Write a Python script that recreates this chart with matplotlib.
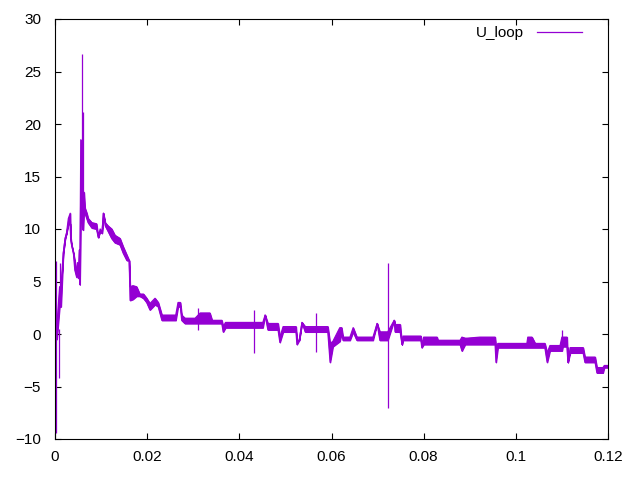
import numpy as np
import matplotlib
matplotlib.use('Agg')
import matplotlib.pyplot as plt
from matplotlib.lines import Line2D

plt.rcParams['font.family'] = ['Liberation Sans', 'DejaVu Sans']

# U_loop envelope: time, lower and upper value of the band
t = [0.0002, 0.0004, 0.0010, 0.0013, 0.0018, 0.0022, 0.0025, 0.0029, 0.0033,
     0.0034, 0.0036, 0.0040, 0.0043, 0.0047, 0.0049, 0.0051, 0.0053, 0.0054,
     0.0056, 0.0058, 0.0060, 0.0061, 0.0063, 0.0065, 0.0069, 0.0072, 0.0080,
     0.0090, 0.0094, 0.0098, 0.0102, 0.0105, 0.0109, 0.0115, 0.0123, 0.0130,
     0.0141, 0.0148, 0.0156, 0.0161, 0.0163, 0.0169, 0.0177, 0.0184, 0.0192,
     0.0199, 0.0206, 0.0217, 0.0224, 0.0232, 0.0250, 0.0262, 0.0267, 0.0272,
     0.0275, 0.0282, 0.0304, 0.0315, 0.0336, 0.0341, 0.0362, 0.0365, 0.0370,
     0.0380, 0.0423, 0.0438, 0.0451, 0.0456, 0.0462, 0.0484, 0.0488, 0.0495,
     0.0523, 0.0525, 0.0530, 0.0536, 0.0543, 0.0592, 0.0597, 0.0603, 0.0618,
     0.0622, 0.0625, 0.0640, 0.0647, 0.0655, 0.0690, 0.0699, 0.0705, 0.0722,
     0.0736, 0.0738, 0.0749, 0.0753, 0.0755, 0.0794, 0.0796, 0.0800, 0.0807,
     0.0829, 0.0831, 0.0879, 0.0883, 0.0890, 0.0894, 0.0922, 0.0955, 0.0957,
     0.0961, 0.1024, 0.1026, 0.1035, 0.1042, 0.1063, 0.1068, 0.1074, 0.1096,
     0.1100, 0.1102, 0.1111, 0.1113, 0.1118, 0.1146, 0.1150, 0.1172, 0.1176,
     0.1189, 0.1192, 0.1204]
lo = [-0.5, -0.5, 2.6, 2.6, 7.7, 9.1, 9.6, 10.4, 10.5,
      9.0, 8.5, 7.7, 6.1, 5.4, 6.0, 5.3, 8.0, 4.7,
      14.0, 11.0, 10.0, 9.9, 11.8, 11.5, 11.0, 10.6, 10.1,
      10.0, 9.2, 9.8, 9.6, 11.5, 10.3, 9.8, 9.1, 8.7,
      8.5, 7.7, 7.0, 7.0, 3.2, 3.3, 3.6, 3.6, 3.4,
      3.0, 2.3, 2.8, 2.6, 1.3, 1.3, 1.3, 2.6, 2.6,
      1.3, 1.0, 1.0, 1.0, 1.0, 1.0, 1.0, 0.2, 0.6,
      0.6, 0.6, 0.6, 0.6, 1.8, 0.4, 0.4, -0.8, 0.2,
      0.2, -1.0, -0.6, 1.1, 0.2, 0.2, -2.7, -1.2, -0.7,
      0.1, -0.6, -0.6, 0.2, -0.6, -0.6, 1.0, -0.6, -0.6,
      1.3, 0.2, 0.2, -1.0, -0.6, -0.6, -1.3, -1.0, -1.0,
      -1.0, -1.0, -1.0, -1.6, -1.0, -1.0, -1.0, -1.0, -2.7,
      -1.3, -1.3, -1.3, -1.3, -1.3, -1.3, -2.7, -1.6, -1.6,
      -1.6, -1.2, -1.2, -2.7, -1.8, -1.8, -2.7, -2.7, -3.7,
      -3.7, -3.2, -3.2]
hi = [0.7, 0.7, 4.5, 4.5, 7.7, 9.1, 9.6, 11.0, 11.5,
      9.3, 8.5, 7.7, 7.0, 5.8, 6.8, 5.5, 8.0, 5.5,
      18.5, 13.0, 12.0, 12.5, 13.5, 12.0, 11.5, 11.0, 10.6,
      10.5, 9.2, 10.0, 9.6, 11.5, 10.6, 10.3, 10.0, 9.4,
      9.1, 8.3, 7.5, 7.0, 4.5, 4.6, 4.5, 3.8, 3.8,
      3.4, 2.9, 3.4, 3.0, 1.8, 1.8, 1.8, 3.0, 3.0,
      1.8, 1.5, 1.5, 2.0, 2.0, 1.3, 1.3, 0.7, 1.1,
      1.1, 1.1, 1.1, 1.1, 1.8, 1.0, 1.0, -0.3, 0.7,
      0.7, -0.6, -0.6, 1.1, 0.7, 0.7, -0.9, -0.7, 0.6,
      0.6, -0.3, -0.3, 0.6, -0.3, -0.3, 1.0, 0.2, 0.2,
      1.3, 0.9, 0.9, -1.0, -0.2, -0.2, -1.0, -0.3, -0.3,
      -0.3, -0.6, -0.6, -0.3, -0.4, -0.4, -0.3, -0.3, -1.2,
      -0.9, -0.9, -0.3, -0.3, -0.9, -0.9, -1.8, -1.1, -1.1,
      -0.3, -0.3, -0.3, -2.7, -1.3, -1.3, -2.2, -2.2, -3.2,
      -3.2, -3.0, -3.0]

# single-sample excursions: time, bottom, top
spike_t = [0.0002, 0.0009, 0.0011, 0.0058, 0.0061, 0.0310, 0.0432, 0.0566,
           0.0723, 0.0883, 0.1030, 0.1100, 0.1113]
spike_lo = [-9.4, -4.2, 2.6, 11.0, 9.9, 0.4, -1.8, -1.7,
            -7.0, -1.6, -1.1, -1.6, -2.7]
spike_hi = [7.0, 0.5, 6.8, 26.7, 21.1, 2.5, 2.3, 2.0,
            6.8, -0.3, -0.3, 0.4, -1.2]

xticks = [0, 0.02, 0.04, 0.06, 0.08, 0.1, 0.12]
xlabels = ['0', '0.02', '0.04', '0.06', '0.08', '0.1', '0.12']
yticks = [-10, -5, 0, 5, 10, 15, 20, 25, 30]

color = '#9400d3'

fig = plt.figure(figsize=(6.4, 4.8), dpi=100)
ax = fig.add_axes([55 / 640, 1 - 439 / 480, 553 / 640, 420 / 480])

ax.fill_between(t, lo, hi, color=color, linewidth=0.9, edgecolor=color)
ax.plot(t, lo, color=color, linewidth=0.9)
ax.plot(t, hi, color=color, linewidth=0.9)
ax.vlines(spike_t, spike_lo, spike_hi, color=color, linewidth=0.9)

ax.set_xlim(0, 0.12)
ax.set_ylim(-10, 30)
ax.set_xticks(xticks)
ax.set_xticklabels(xlabels)
ax.set_yticks(yticks)
ax.tick_params(direction='in', length=4, width=0.8, top=True, right=True,
               labelsize=11, colors='black')
ax.tick_params(axis='y', pad=10)
ax.tick_params(axis='x', pad=8)
for s in ax.spines.values():
    s.set_linewidth(0.8)

handle = Line2D([], [], color=color, linewidth=0.9)
ax.legend([handle], ['U_loop'], loc='center right', bbox_to_anchor=(0.9675, 0.9667),
          frameon=False, markerfirst=False, borderpad=0, handlelength=2.95,
          handletextpad=0.85, fontsize=11)

fig.savefig('out.png', dpi=100)
